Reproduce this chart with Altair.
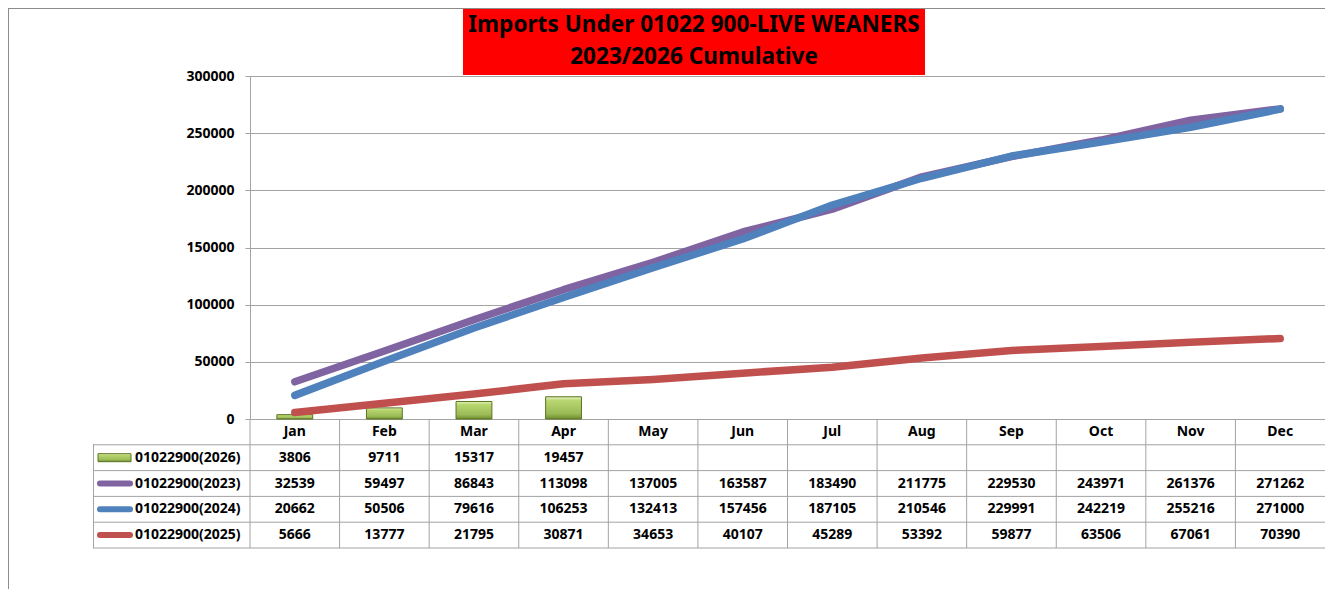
import altair as alt
import pandas as pd

months = ["Jan", "Feb", "Mar", "Apr", "May", "Jun", "Jul", "Aug", "Sep", "Oct", "Nov", "Dec"]
v2026 = [3806, 9711, 15317, 19457]
v2023 = [32539, 59497, 86843, 113098, 137005, 163587, 183490, 211775, 229530, 243971, 261376, 271262]
v2024 = [20662, 50506, 79616, 106253, 132413, 157456, 187105, 210546, 229991, 242219, 255216, 271000]
v2025 = [5666, 13777, 21795, 30871, 34653, 40107, 45289, 53392, 59877, 63506, 67061, 70390]
series_names = ["01022900(2026)", "01022900(2023)", "01022900(2024)", "01022900(2025)"]
line_colors = ["#8064a2", "#4f81bd", "#c0504d"]
title_lines = ["Imports Under 01022 900-LIVE WEANERS", "2023/2026 Cumulative"]
y_ticks = [0, 50000, 100000, 150000, 200000, 250000, 300000]

FONT = "Noto Sans"
W, H = 1075, 343
TABLE_H = 129
GRID = "#a3a3a3"

xs = alt.Scale(domain=months, paddingInner=0, paddingOuter=0)
ys = alt.Scale(domain=[0, 300000], nice=False)
rows = ["header"] + series_names
rs = alt.Scale(domain=rows, range=[H, H + TABLE_H], paddingInner=0, paddingOuter=0)

bar_grad = alt.LinearGradient(
    gradient="linear", x1=0, y1=0, x2=0, y2=1,
    stops=[
        alt.GradientStop(color="#e6f2c2", offset=0),
        alt.GradientStop(color="#b8d66e", offset=0.18),
        alt.GradientStop(color="#9bbb59", offset=0.75),
        alt.GradientStop(color="#6e8c2c", offset=1),
    ],
)

df26 = pd.DataFrame({"month": months[:len(v2026)], "value": v2026})
line_dfs = [
    pd.DataFrame({"month": months, "value": v})
    for v in (v2023, v2024, v2025)
]

# table data
tab_rows = []
for m in months:
    tab_rows.append({"row": "header", "month": m, "txt": m})
for name, vals in zip(series_names, (v2026, v2023, v2024, v2025)):
    for i, m in enumerate(months):
        tab_rows.append({"row": name, "month": m, "txt": str(vals[i]) if i < len(vals) else ""})
tab_df = pd.DataFrame(tab_rows)
names_df = pd.DataFrame({"row": series_names})
months_df = pd.DataFrame({"month": months})
dummy = alt.Data(values=[{}])

bars = alt.Chart(df26).mark_bar(
    color=bar_grad, stroke="#5a7420", strokeWidth=1, width=alt.RelativeBandSize(0.4)
).encode(
    x=alt.X("month:N", scale=xs, axis=None),
    y=alt.Y("value:Q", scale=ys, axis=alt.Axis(
        values=y_ticks, format="d", title=None, grid=True, gridColor=GRID,
        domainColor=GRID, tickColor=GRID, tickSize=5, labelPadding=11,
        labelFont=FONT, labelFontSize=14, labelFontWeight="bold", labelColor="black")),
)

lines = [
    alt.Chart(d).mark_line(color=c, strokeWidth=7.5, strokeCap="round", strokeJoin="round").encode(
        x=alt.X("month:N", scale=xs, axis=None, bandPosition=0.5),
        y=alt.Y("value:Q", scale=ys, axis=None),
    )
    for d, c in zip(line_dfs, line_colors)
]

table_text = alt.Chart(tab_df).mark_text(
    font=FONT, fontSize=14, fontWeight="bold", color="black", baseline="middle", align="center"
).encode(
    x=alt.X("month:N", scale=xs, axis=None, bandPosition=0.5),
    y=alt.Y("row:N", scale=rs, axis=None, bandPosition=0.5),
    text="txt:N",
)

h_rules = alt.Chart(names_df).mark_rule(color=GRID, strokeWidth=1).encode(
    y=alt.Y("row:N", scale=rs, axis=None, bandPosition=0),
    x=alt.value(-157), x2=alt.value(W),
)
h_bottom = alt.Chart(names_df.tail(1)).mark_rule(color=GRID, strokeWidth=1).encode(
    y=alt.Y("row:N", scale=rs, axis=None, bandPosition=1),
    x=alt.value(-157), x2=alt.value(W),
)
v_rules = alt.Chart(months_df).mark_rule(color=GRID, strokeWidth=1).encode(
    x=alt.X("month:N", scale=xs, axis=None, bandPosition=0),
    y=alt.value(H), y2=alt.value(H + TABLE_H),
)
v_left = alt.Chart(dummy).mark_rule(color=GRID, strokeWidth=1).encode(
    x=alt.value(-156.5), y=alt.value(H + 25), y2=alt.value(H + TABLE_H),
)

legend_text = alt.Chart(names_df).mark_text(
    font=FONT, fontSize=14, fontWeight="bold", color="black", baseline="middle", align="left"
).encode(
    x=alt.value(-115),
    y=alt.Y("row:N", scale=rs, axis=None, bandPosition=0.5),
    text="row:N",
)
legend_lines = alt.Chart(names_df.iloc[1:]).mark_rule(strokeWidth=6, strokeCap="round").encode(
    x=alt.value(-150), x2=alt.value(-120),
    y=alt.Y("row:N", scale=rs, axis=None, bandPosition=0.5),
    color=alt.Color("row:N", scale=alt.Scale(domain=series_names[1:], range=line_colors), legend=None),
)
legend_bar = alt.Chart(names_df.head(1)).mark_bar(
    color=bar_grad, stroke="#5a7420", strokeWidth=1, height=8
).encode(
    x=alt.value(-152), x2=alt.value(-119),
    y=alt.Y("row:N", scale=rs, axis=None),
)

border_top = alt.Chart(dummy).mark_rule(color="#8c8c8c", strokeWidth=1).encode(
    x=alt.value(-242), x2=alt.value(W), y=alt.value(-67.5)
)
border_left = alt.Chart(dummy).mark_rule(color="#8c8c8c", strokeWidth=1).encode(
    x=alt.value(-241.5), y=alt.value(-68), y2=alt.value(H + 170)
)
title_box = alt.Chart(dummy).mark_rect(color="#ff0000").encode(
    x=alt.value(213), x2=alt.value(675), y=alt.value(-67), y2=alt.value(-1)
)
title_texts = [
    alt.Chart(dummy).mark_text(
        font=FONT, fontSize=22.6, fontWeight="bold", color="black", align="center", baseline="middle"
    ).encode(x=alt.value(444), y=alt.value(yy), text=alt.value(t))
    for t, yy in zip(title_lines, (-51, -19))
]

chart = alt.layer(
    border_top, border_left, title_box, *title_texts,
    bars, *lines,
    h_rules, h_bottom, v_rules, v_left, table_text,
    legend_lines, legend_bar, legend_text,
).resolve_scale(y="independent").properties(
    width=W, height=H,
    autosize=alt.AutoSizeParams(type="none"),
    padding={"left": 242, "top": 68, "right": 0, "bottom": 170},
    background="white",
).configure_view(stroke=None)

chart.save("out.html", embed_options={"renderer": "svg", "actions": False})
